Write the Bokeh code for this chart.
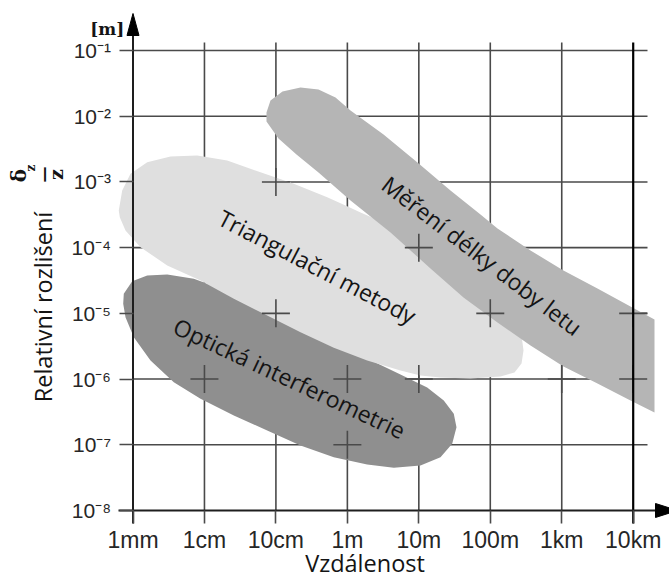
import numpy as np
from bokeh.plotting import figure
from bokeh.models import Range1d, FixedTicker, Label
from bokeh.core.properties import value
from bokeh.embed import file_html
from bokeh.resources import INLINE

# ---------------- data ----------------
distance_ticks = [1e-3, 1e-2, 1e-1, 1e0, 1e1, 1e2, 1e3, 1e4]
distance_labels = ["1mm", "1cm", "10cm", "1m", "10m", "100m", "1km", "10km"]
resolution_ticks = [1e-8, 1e-7, 1e-6, 1e-5, 1e-4, 1e-3, 1e-2, 1e-1]
resolution_labels = ["10⁻⁸", "10⁻⁷", "10⁻⁶", "10⁻⁵", "10⁻⁴", "10⁻³", "10⁻²", "10⁻¹"]

# region outlines: log10(distance in m), log10(relative resolution)
tri_logx = [-3.199, -3.151, -3.035, -2.801, -2.475, -2.102, -1.682, -1.216, -0.750, -0.282,
            -0.026, 0.184, 0.604, 1.163, 1.653, 2.101, 2.353, 2.437, 2.465, 2.437,
            2.339, 2.143, 1.723, 1.303, 1.023, 0.743, 0.277, -0.190, -0.656, -1.122,
            -1.589, -2.055, -2.521, -2.895, -3.105, -3.185]
tri_logy = [-3.435, -3.130, -2.876, -2.700, -2.613, -2.598, -2.674, -2.852, -3.028, -3.232,
            -3.359, -3.465, -3.663, -4.120, -4.530, -4.880, -5.139, -5.337, -5.565, -5.763,
            -5.900, -5.961, -5.991, -5.976, -5.946, -5.869, -5.717, -5.524, -5.287, -5.033,
            -4.778, -4.500, -4.272, -3.993, -3.739, -3.537]

tof_logx = [-1.132, -1.132, -1.076, -0.908, -0.656, -0.404, -0.166, 0.044, 0.506, 0.981,
            1.443, 1.863, 2.101, 2.563, 3.024, 3.500, 3.962, 4.298, 4.298, 3.962,
            3.500, 3.024, 2.563, 2.101, 1.625, 1.163, 0.604, 0.044, -0.404, -0.712, -0.964]
tof_logy = [-2.080, -1.943, -1.761, -1.624, -1.563, -1.593, -1.715, -1.913, -2.278, -2.704,
            -3.130, -3.496, -3.709, -4.043, -4.348, -4.622, -4.896, -5.093, -6.509, -6.326,
            -6.067, -5.809, -5.489, -5.139, -4.759, -4.317, -3.770, -3.283, -2.857, -2.583, -2.339]

opt_logx = [-3.129, -3.011, -2.801, -2.521, -2.149, -1.822, -1.589, -1.122, -0.656, -0.190,
            0.277, 0.743, 1.117, 1.349, 1.489, 1.527, 1.467, 1.303, 1.023, 0.650,
            0.277, -0.190, -0.656, -1.122, -1.589, -2.055, -2.429, -2.755, -2.989, -3.105, -3.137]
opt_logy = [-4.702, -4.511, -4.424, -4.409, -4.474, -4.602, -4.754, -4.987, -5.230, -5.459,
            -5.687, -5.930, -6.128, -6.326, -6.528, -6.732, -6.985, -7.189, -7.315, -7.350,
            -7.300, -7.189, -7.011, -6.782, -6.554, -6.300, -6.047, -5.717, -5.363, -5.058, -4.854]

region_names = ["Triangulační metody", "Měření délky doby letu", "Optická interferometrie"]
region_label_logx = [-0.418, 1.887, -0.810]
region_label_logy = [-4.288, -4.120, -5.985]
region_label_angle_deg = [-27.5, -37.5, -25.0]

# grid intersections where the grid shows through the regions
mark_x = [1e-1, 1e1, 1e-1, 1e2, 1e4, 1e-2, 1e0, 1e1, 1e3, 1e4, 1e0]
mark_y = [1e-3, 1e-4, 1e-5, 1e-5, 1e-5, 1e-6, 1e-6, 1e-6, 1e-6, 1e-6, 1e-7]

# ---------------- layout (canvas px) ----------------
W, H = 669, 579
X_1MM = 132.5              # canvas px of 1 mm
Y_TOP = 50.0               # canvas px of 1e-1
XPD, YPD = 71.457, 65.714  # px per decade


def X(px):
    return 10 ** (-3 + (px - X_1MM) / XPD)


def Y(py):
    return 10 ** (-1 - (py - Y_TOP) / YPD)


GRID = "#4a4a4a"
AX = "#1e1e1e"
INK = "#141414"

p = figure(width=W, height=H, x_axis_type="log", y_axis_type="log",
           x_range=Range1d(X(0), X(W)), y_range=Range1d(Y(H), Y(0)),
           output_backend="svg", toolbar_location=None, min_border=0)
p.min_border_left = p.min_border_right = p.min_border_top = p.min_border_bottom = 0
p.outline_line_color = None
p.xgrid.visible = False
p.ygrid.visible = False
p.background_fill_color = "white"
p.border_fill_color = "white"

p.xaxis.fixed_location = resolution_ticks[0]
p.yaxis.fixed_location = distance_ticks[0]
for ax, ticks, labels, size, standoff, tick_out in (
        (p.xaxis, distance_ticks, distance_labels, "23px", 4, 13),
        (p.yaxis, resolution_ticks, resolution_labels, "21px", 8, 14)):
    ax.ticker = FixedTicker(ticks=ticks)
    ax.major_label_overrides = dict(zip(ticks, labels))
    ax.axis_line_color = None
    ax.major_tick_line_color = GRID
    ax.major_tick_line_width = 1.6
    ax.minor_tick_line_color = None
    ax.major_tick_out = tick_out
    ax.major_tick_in = 0
    ax.major_label_standoff = standoff
    ax.major_label_text_font = "Liberation Sans"
    ax.major_label_text_font_size = size
    ax.major_label_text_color = "#262626"

# grid lines (under the regions)
rows = resolution_ticks[1:]
p.segment(x0=[distance_ticks[0]] * len(rows), y0=rows, x1=[X(647)] * len(rows), y1=rows,
          line_color=GRID, line_width=1.6)
cols = distance_ticks[1:-1]
p.segment(x0=cols, y0=[resolution_ticks[0]] * len(cols), x1=cols, y1=[Y(42)] * len(cols),
          line_color=GRID, line_width=1.6)

# regions
p.patch(10 ** np.array(opt_logx), 10 ** np.array(opt_logy), fill_color="#8f8f8f", line_color=None)
p.patch(10 ** np.array(tri_logx), 10 ** np.array(tri_logy), fill_color="#dfdfdf", line_color=None)
p.patch(10 ** np.array(tof_logx), 10 ** np.array(tof_logy), fill_color="#b5b5b5", line_color=None)

# grid crossings visible on top of the regions
p.scatter(mark_x, mark_y, marker="cross", size=28, line_color=GRID, line_width=1.6)

# 10 km line and axes
p.segment(x0=[distance_ticks[-1]], y0=[Y(523)], x1=[distance_ticks[-1]], y1=[Y(42)],
          line_color="#000000", line_width=2.2)
p.segment(x0=[distance_ticks[0]], y0=[Y(523)], x1=[distance_ticks[0]], y1=[Y(35)],
          line_color=AX, line_width=2)
p.segment(x0=[X(118)], y0=[resolution_ticks[0]], x1=[X(658)], y1=[resolution_ticks[0]],
          line_color=AX, line_width=2)
# arrow heads
p.patch([X(X_1MM - 6), distance_ticks[0], X(X_1MM + 6)], [Y(35), Y(13), Y(35)],
        fill_color="#000000", line_color="#000000")
y_ax = Y_TOP + 7 * YPD
p.patch([X(655), X(677), X(655)], [Y(y_ax - 7), resolution_ticks[0], Y(y_ax + 7)],
        fill_color="#000000", line_color="#000000")

# region names
p.text(x=10 ** np.array(region_label_logx), y=10 ** np.array(region_label_logy),
       text=region_names, angle=np.radians(region_label_angle_deg),
       text_align="center", text_baseline="middle",
       text_font=value("Open Sans"), text_font_size="23px", text_color=INK)

# axis titles and unit marks
p.add_layout(Label(x=X(364.5), y=Y(562), text="Vzdálenost", text_align="center",
                   text_baseline="middle", text_font="Open Sans",
                   text_font_size="23.5px", text_color=INK))
p.add_layout(Label(x=X(42), y=Y(306.5), text="Relativní rozlišení", angle=np.pi / 2,
                   text_align="center", text_baseline="middle", text_font="Open Sans",
                   text_font_size="23.5px", text_color=INK))
p.add_layout(Label(x=X(106.7), y=Y(28.3), text="[m]", text_align="center",
                   text_baseline="middle", text_font="DejaVu Serif", text_font_style="bold",
                   text_font_size="17px", text_color=INK))
for txt, cx, cy, fs in (("δ", 18, 175, "20px"), ("z", 30, 167.5, "12px"),
                        ("—", 44, 174, "16px"), ("z", 55, 174, "19px")):
    p.add_layout(Label(x=X(cx), y=Y(cy), text=txt, angle=np.pi / 2,
                       text_align="center", text_baseline="middle",
                       text_font="DejaVu Serif", text_font_style="bold",
                       text_font_size=fs, text_color=INK))

open("out.html", "w").write(file_html(p, INLINE))
